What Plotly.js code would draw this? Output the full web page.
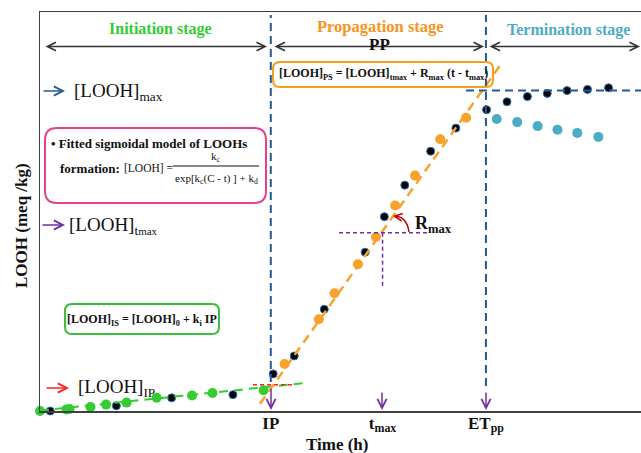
<!DOCTYPE html>
<html><head><meta charset="utf-8">
<script src="https://cdn.plot.ly/plotly-3.0.1.min.js"></script>
<style>html,body{margin:0;padding:0;background:#fff}</style>
</head><body><div id="chart" style="width:641px;height:453px"></div>
<script>
// ---- data (time in h, LOOH in meq/kg, arbitrary scale) ----
const greenT  = [0, 4.4, 4.9, 8.4, 11.0, 14.4, 19.4, 25.3, 28.7, 37.2];
const greenV  = [0, 0.4, 0.5, 1.0, 1.6, 2.1, 3.3, 3.9, 4.5, 5.2];
const blackT  = [1.7, 12.7, 21.9, 32.1, 38.8, 42.3, 47.3, 54.1, 57.3, 60.7, 65.0, 69.2, 74.3, 77.7, 81.1, 84.4, 87.7, 91.1, 94.6];
const blackV  = [0, 1.3, 3.3, 4.1, 9.3, 13.8, 25.5, 39.8, 48.7, 56.6, 65.1, 70.9, 75.5, 77.5, 78.8, 79.6, 80.3, 80.6, 81.0];
const orangeT = [40.7, 46.4, 49.0, 52.9, 55.9, 59.1, 62.4, 66.6, 70.9];
const orangeV = [11.8, 23.0, 29.5, 36.8, 43.6, 51.5, 59.0, 68.1, 73.5];
const tealT   = [76.0, 79.4, 82.8, 86.1, 89.4, 92.9];
const tealV   = [73.2, 72.4, 71.4, 70.5, 69.7, 68.7];
const initFitT = [0, 44.6];
const initFitV = [0.1, 7.1];
const propFitT = [36.6, 76.5];
const propFitV = [1.8, 86.5];
const IP = 38.4, tMax = 57.0, ETpp = 74.2;
const loohIP = 6.6, loohTmax = 44.7, loohMax = 80.3;
const tickVals = [IP, tMax, ETpp];
const tickText = ['IP', 't<sub>max</sub>', 'ET<sub>pp</sub>'];

// ---- layout helpers: convert page pixels to axis units for decorations ----
const L = 40, T = 12, W = 601, H = 399;
const X = px => (px - L) / W * 100;
const Y = py => (T + H - py) / H * 100;
const PX = px => (px - L) / W;
const PY = py => (T + H - py) / H;
function rrect(x0, y0, x1, y1, r) {
  const p = (a, b) => X(a) + ',' + Y(b);
  return 'M' + p(x0 + r, y0) + ' L' + p(x1 - r, y0) + ' Q' + p(x1, y0) + ' ' + p(x1, y0 + r) +
    ' L' + p(x1, y1 - r) + ' Q' + p(x1, y1) + ' ' + p(x1 - r, y1) +
    ' L' + p(x0 + r, y1) + ' Q' + p(x0, y1) + ' ' + p(x0, y1 - r) +
    ' L' + p(x0, y0 + r) + ' Q' + p(x0, y0) + ' ' + p(x0 + r, y0) + ' Z';
}
const SERIF = 'Liberation Serif, Times New Roman, serif';
const BLUE = '#26598f', PURPLE = '#7030a0', GREEN = '#33cc33', ORANGE = '#f7a22b', TEAL = '#4bacc6';

const traces = [
  {x: greenT, y: greenV, mode: 'markers', marker: {color: GREEN, size: 10}, cliponaxis: false},
  {x: blackT, y: blackV, mode: 'markers', marker: {color: '#050505', size: 8, line: {color: '#2f6fb5', width: 1}}, cliponaxis: false},
  {x: orangeT, y: orangeV, mode: 'markers', marker: {color: ORANGE, size: 10}, cliponaxis: false},
  {x: tealT, y: tealV, mode: 'markers', marker: {color: TEAL, size: 10}, cliponaxis: false},
  {x: initFitT, y: initFitV, mode: 'lines', line: {color: GREEN, width: 2, dash: '9px,6px'}},
  {x: propFitT, y: propFitV, mode: 'lines', line: {color: ORANGE, width: 2.5, dash: '9px,6px'}}
];

const shapes = [
  {type: 'line', x0: IP, x1: IP, y0: Y(382), y1: Y(15), line: {color: BLUE, width: 2, dash: '8px,5px'}},
  {type: 'line', x0: ETpp, x1: ETpp, y0: Y(386), y1: Y(15), line: {color: BLUE, width: 2, dash: '8px,5px'}},
  {type: 'line', x0: X(466), x1: 100, y0: loohMax, y1: loohMax, line: {color: BLUE, width: 2, dash: '8px,5px'}},
  {type: 'line', x0: X(253), x1: X(293), y0: loohIP, y1: loohIP, line: {color: '#ff2020', width: 1.5, dash: '4px,3px'}},
  {type: 'line', x0: X(339), x1: X(430), y0: loohTmax, y1: loohTmax, line: {color: PURPLE, width: 1.5, dash: '4px,3px'}},
  {type: 'line', x0: tMax, x1: tMax, y0: loohTmax, y1: Y(288), line: {color: PURPLE, width: 1.5, dash: '4px,3px'}},
  {type: 'path', path: rrect(45, 128, 266, 203, 12), line: {color: '#e6408c', width: 2}},
  {type: 'path', path: rrect(65, 304, 219, 334, 7), line: {color: '#3dbf3d', width: 2}},
  {type: 'path', path: rrect(273, 62, 493, 87, 7), line: {color: '#f5a020', width: 2}},
  {type: 'line', x0: X(173), x1: X(259), y0: Y(166), y1: Y(166), line: {color: '#111', width: 1}},
  {type: 'path', path: 'M' + X(409) + ',' + Y(232) + ' Q' + X(407) + ',' + Y(217) + ' ' + X(395) + ',' + Y(216), line: {color: '#c00000', width: 1.5}}
];

function txt(px, py, text, size, color, opts) {
  return Object.assign({x: X(px), y: Y(py), xref: 'x', yref: 'y', text: text, showarrow: false,
    font: {family: SERIF, size: size, color: color || '#111', weight: 700}, xanchor: 'center', yanchor: 'middle'}, opts || {});
}
function txtP(px, py, text, size, opts) {
  return Object.assign({x: PX(px), y: PY(py), xref: 'paper', yref: 'paper', text: text, showarrow: false,
    font: {family: SERIF, size: size, color: '#111', weight: 700}, xanchor: 'center', yanchor: 'middle'}, opts || {});
}
function reg(size) { return {font: {family: SERIF, size: size, color: '#111', weight: 400}}; }
function arr(px, py, ax, ay, color, extra) {
  return Object.assign({x: X(px), y: Y(py), xref: 'x', yref: 'y', text: '', showarrow: true, ax: ax, ay: ay,
    arrowhead: 5, arrowsize: 1.2, arrowwidth: 1.5, arrowcolor: color, standoff: 0}, extra || {});
}
function dbl(px0, px1, py) {
  return {x: X(px1), y: Y(py), ax: X(px0), ay: Y(py), xref: 'x', yref: 'y', axref: 'x', ayref: 'y', text: '',
    showarrow: true, arrowside: 'end+start', arrowhead: 5, startarrowhead: 5, arrowsize: 1.3, startarrowsize: 1.3,
    arrowwidth: 1.3, arrowcolor: '#333', standoff: 0, startstandoff: 0};
}
const annotations = [
  dbl(44, 267, 46.5), dbl(273, 484, 46.5), dbl(488, 640, 46.5),
  txt(160, 29, 'Initiation stage', 16, GREEN),
  txt(380, 26, 'Propagation stage', 16.5, '#f7941d'),
  txt(379, 44, 'PP', 17, '#111'),
  txt(568, 30, 'Termination stage', 16, TEAL),
  // left markers
  arr(65, 91, -23, 0, BLUE),
  txt(72, 92, '[LOOH]<sub>max</sub>', 18, '#111', Object.assign({xanchor: 'left'}, reg(19))),
  arr(65, 225, -24, 0, PURPLE),
  txt(67, 226, '[LOOH]<sub>t<span style="font-size:11px">max</span></sub>', 18, '#111', Object.assign({xanchor: 'left'}, reg(19))),
  arr(69, 388, -24, 0, '#ff2020'),
  txt(76, 388, '[LOOH]<sub>IP</sub>', 18, '#111', Object.assign({xanchor: 'left'}, reg(19))),
  // pink box
  txt(49, 143, '• Fitted sigmoidal model of LOOHs', 13, '#111', {xanchor: 'left'}),
  txt(58, 168, 'formation:', 13, '#111', {xanchor: 'left'}),
  txt(122, 168, '[LOOH] =', 11.5, '#111', Object.assign({xanchor: 'left'}, reg(11.5))),
  txt(216, 157, 'k<sub>c</sub>', 11, '#111', reg(11)),
  txt(216, 179, 'exp[k<sub>c</sub>(C - t) ] + k<sub>d</sub>', 11, '#111', reg(11)),
  // green & orange boxes
  txt(142, 320, '[LOOH]<sub>IS</sub> = [LOOH]<sub>0</sub> + k<sub>i</sub> IP', 12, '#111'),
  txt(383, 74, '[LOOH]<sub>PS</sub> = [LOOH]<sub>t<span style="font-size:8px">max</span></sub> + R<sub>max</sub> (t - t<sub>max</sub>)', 12, '#111'),
  // Rmax
  txt(413, 224, 'R<sub>max</sub>', 18, '#111', {xanchor: 'left'}),
  arr(393, 216, 7, 1, '#c00000', {arrowsize: 1, arrowwidth: 1.5}),
  // bottom arrows
  arr(271, 410, 0, -23, PURPLE), arr(382, 410, 0, -19, PURPLE), arr(486, 410, 0, -19, PURPLE),
  // axis titles
  txtP(21, 226, 'LOOH (meq /kg)', 17, {textangle: -90}),
  txtP(337, 444, 'Time (h)', 17)
];

const layout = {
  width: 641, height: 453,
  margin: {l: L, r: 0, t: T, b: 453 - T - H, pad: 0},
  paper_bgcolor: '#fff', plot_bgcolor: '#fff',
  showlegend: false,
  xaxis: {range: [0, 100], showgrid: false, zeroline: false, showline: true, mirror: true, linecolor: '#404040', linewidth: 1.5,
    tickvals: tickVals, ticktext: tickText, ticks: '', ticklabelstandoff: -4,
    tickfont: {family: SERIF, size: 17, color: '#111', weight: 700}, fixedrange: true},
  yaxis: {range: [0, 100], showgrid: false, zeroline: false, showline: true, mirror: false, linecolor: '#404040', linewidth: 1.5,
    showticklabels: false, ticks: '', fixedrange: true},
  shapes: shapes,
  annotations: annotations
};
Plotly.newPlot('chart', traces, layout, {displayModeBar: false, staticPlot: true});
</script></body></html>
